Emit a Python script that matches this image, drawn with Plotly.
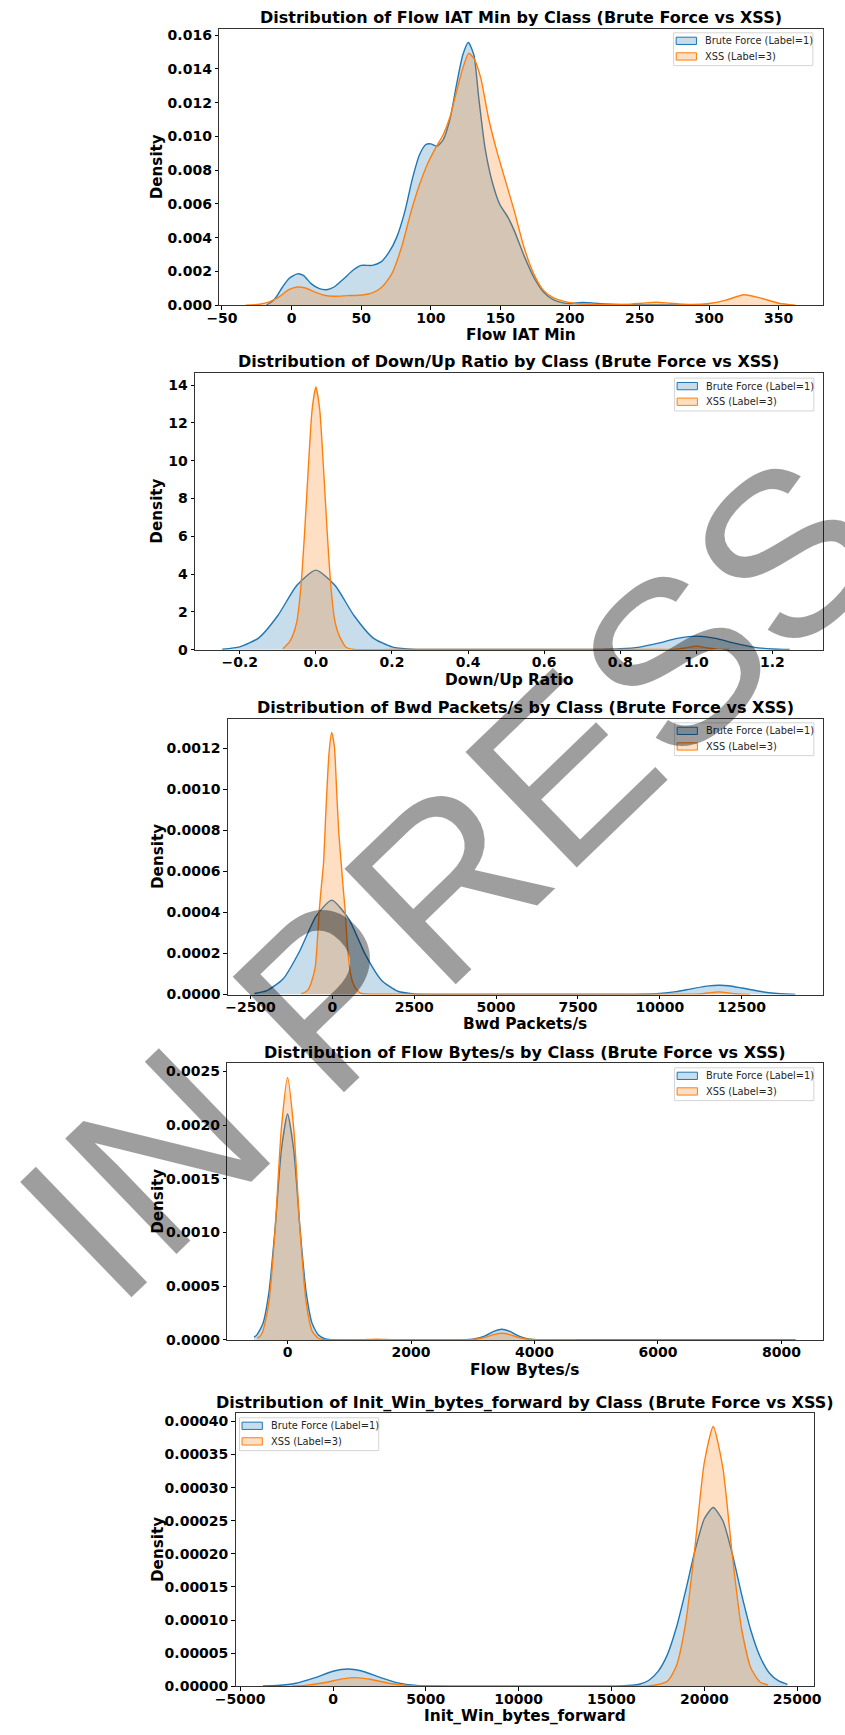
import plotly.graph_objects as go

W, H = 845, 1735

# ---------------- DATA ----------------
# Panel 1: Flow IAT Min
iat_bf_x = [-18, -14, -11, -6.5, -2, 4, 8.5, 14, 20, 25, 30.5, 37.5, 44.5, 50, 58, 64, 70, 75.5, 81.5, 87, 92, 96.5,
            100, 104.5, 109, 114, 118.5, 123, 127, 131, 134.5, 139, 144, 149.5, 155.5, 160, 167, 174, 181, 188, 195,
            200, 208.5, 215.5, 225, 236, 250, 270, 300]
iat_bf_y = [0.00002, 0.00022, 0.00049, 0.00108, 0.00157, 0.00186, 0.00177, 0.00128, 0.00098, 0.00092, 0.00108,
            0.00157, 0.0021, 0.00236, 0.00236, 0.00255, 0.00314, 0.00402, 0.00559, 0.00756, 0.00893, 0.00952,
            0.00956, 0.00942, 0.00981, 0.01109, 0.01305, 0.01482, 0.01556, 0.01482, 0.01227, 0.00932, 0.00736,
            0.00599, 0.0052, 0.00442, 0.00294, 0.00167, 0.00079, 0.00033, 0.00014, 0.0001, 0.00016, 0.00014,
            0.00008, 0.00004, 0.00002, 0.00001, 0.0]
iat_xss_x = [-33, -23, -16, -9, -2, 4, 10, 16.5, 23.5, 30.5, 40, 51, 58, 65, 72, 79, 86, 92, 97.5, 103.5, 109, 114,
             118.5, 123, 127.2, 131, 136, 141.5, 147.5, 153, 160, 167, 174, 181, 188, 195, 204, 213, 225, 240, 252,
             262, 272, 285, 300, 312, 325, 338, 350, 362]
iat_xss_y = [0.0, 0.00006, 0.0002, 0.00049, 0.00092, 0.00108, 0.00102, 0.00079, 0.00059, 0.00053, 0.00057, 0.00061,
             0.00073, 0.00108, 0.00186, 0.00343, 0.00559, 0.00716, 0.00834, 0.00932, 0.01011, 0.01119, 0.01266,
             0.01403, 0.01492, 0.01462, 0.01344, 0.01109, 0.00913, 0.00756, 0.00559, 0.00343, 0.00186, 0.00088,
             0.00045, 0.00024, 0.0001, 0.00006, 0.00004, 0.00005, 0.00012, 0.00018, 0.00012, 0.00005, 0.0001,
             0.0003, 0.00062, 0.0004, 0.00012, 0.0]

# Panel 2: Down/Up Ratio
ratio_bf_x = [-0.246, -0.2, -0.15, -0.1, -0.05, 0.0, 0.05, 0.1, 0.15, 0.2, 0.25, 0.3, 0.4, 0.5, 0.6, 0.7, 0.75,
              0.8, 0.85, 0.9, 0.95, 1.0, 1.05, 1.1, 1.15, 1.2, 1.245]
ratio_bf_y = [0.026, 0.15, 0.63, 1.81, 3.41, 4.21, 3.41, 1.81, 0.63, 0.15, 0.03, 0.015, 0.01, 0.01, 0.01, 0.015,
              0.02, 0.05, 0.14, 0.35, 0.6, 0.72, 0.6, 0.35, 0.14, 0.04, 0.01]
ratio_xss_x = [-0.087, -0.07, -0.06, -0.05, -0.04, -0.03, -0.02, -0.01, 0.0, 0.01, 0.02, 0.03, 0.04, 0.05, 0.06,
               0.07, 0.08, 0.1, 0.2, 0.4, 0.6, 0.8, 0.9, 0.94, 0.97, 1.0, 1.03, 1.06, 1.087]
ratio_xss_y = [0.05, 0.4, 0.8, 1.5, 3.2, 6.1, 9.6, 12.7, 13.9, 12.7, 9.6, 6.1, 3.2, 1.5, 0.8, 0.4, 0.12, 0.02,
               0.01, 0.01, 0.01, 0.01, 0.01, 0.02, 0.09, 0.19, 0.09, 0.02, 0.01]

# Panel 3: Bwd Packets/s
bwd_bf_x = [-2380, -2000, -1500, -1000, -500, -20, 500, 1000, 1500, 2000, 2500, 3000, 5000, 7000, 9000, 9500,
            10000, 10500, 11000, 11500, 11800, 12100, 12500, 13000, 13500, 14000, 14140]
bwd_bf_y = [5e-6, 1.9e-5, 7.7e-5, 0.000211, 0.000381, 0.00046, 0.000369, 0.000197, 7e-5, 1.6e-5, 3e-6, 1e-6,
            1e-6, 1e-6, 1e-6, 1.2e-6, 4.8e-6, 1.4e-5, 2.9e-5, 4.2e-5, 4.5e-5, 4.3e-5, 3.2e-5, 1.7e-5, 6e-6,
            1.6e-6, 1e-6]
bwd_xss_x = [-947, -850, -740, -640, -520, -460, -400, -340, -270, -190, -100, -20, 60, 140, 200, 270, 330, 390,
             450, 520, 620, 740, 893, 2000, 6000, 10000, 11000, 11300, 11550, 11800, 12050, 12300, 12600, 12750]
bwd_xss_y = [5e-6, 1e-5, 2.4e-5, 6e-5, 0.000137, 0.00026, 0.00041, 0.00052, 0.00064, 0.00092, 0.00118, 0.001277,
             0.00121, 0.00096, 0.00078, 0.00064, 0.00052, 0.00041, 0.00026, 0.000137, 6e-5, 2.4e-5, 5e-6, 2e-6,
             2e-6, 2e-6, 2e-6, 4e-6, 9.6e-6, 1.3e-5, 9.6e-6, 4e-6, 1e-6, 0.0]

# Panel 4: Flow Bytes/s
fbs_bf_x = [-543, -500, -400, -300, -200, -100, 0, 100, 200, 300, 400, 500, 600, 700, 1500, 2500, 3000, 3200,
            3350, 3470, 3600, 3750, 3900, 4100, 5000, 6000, 7000, 8230]
fbs_bf_y = [2.5e-5, 4.5e-5, 0.00015, 0.00045, 0.00105, 0.00177, 0.002106, 0.00177, 0.00105, 0.00045, 0.00015,
            4.5e-5, 1.2e-5, 3e-6, 1e-6, 1e-6, 6e-6, 3.8e-5, 8.2e-5, 9.9e-5, 7.9e-5, 3.5e-5, 9e-6, 1e-6, 1e-6,
            1e-6, 1e-6, 1e-6]
fbs_xss_x = [-492, -450, -400, -300, -200, -100, 0, 100, 200, 300, 400, 500, 600, 800, 1200, 1450, 1700, 2200,
             3000, 3200, 3350, 3470, 3600, 3750, 3950, 4300, 4675]
fbs_xss_y = [2e-5, 3.2e-5, 8e-5, 0.000357, 0.00104, 0.00197, 0.002444, 0.00197, 0.00104, 0.000357, 8e-5, 1.5e-5,
             3e-6, 1e-6, 2e-6, 8e-6, 2e-6, 1e-6, 4e-6, 2.4e-5, 5.2e-5, 6.2e-5, 5e-5, 2.2e-5, 4e-6, 1e-6, 0.0]

# Panel 5: Init_Win_bytes_forward
win_bf_x = [-3780, -3000, -2000, -1000, 0, 800, 1500, 2500, 3500, 4500, 5500, 7000, 10000, 13000, 15500, 16500,
            17000, 17500, 18000, 18500, 19000, 19500, 20000, 20480, 21000, 21500, 22000, 22500, 23000, 23500,
            24000, 24480]
win_bf_y = [5e-7, 1.1e-6, 4.5e-6, 1.27e-5, 2.26e-5, 2.6e-5, 2.34e-5, 1.37e-5, 5.1e-6, 1.2e-6, 3e-7, 2e-7, 2e-7,
            2e-7, 5e-7, 3e-6, 8.7e-6, 2.2e-5, 4.7e-5, 8.9e-5, 0.000145, 0.000205, 0.000253, 0.00027, 0.00025,
            0.000201, 0.00014, 8.5e-5, 4.5e-5, 2e-5, 8e-6, 2.9e-6]
win_xss_x = [-2200, -1500, -500, 500, 1200, 2000, 3000, 4000, 5000, 8000, 12000, 16000, 17000, 18000, 18500,
             19000, 19500, 20000, 20480, 21000, 21500, 22000, 22500, 23000, 23440]
win_xss_y = [2e-7, 1.3e-6, 5.2e-6, 1.11e-5, 1.3e-5, 1.06e-5, 4.6e-6, 1.1e-6, 1e-7, 1e-7, 1e-7, 1e-7, 5e-7, 7.4e-6,
             3.1e-5, 9.6e-5, 0.000211, 0.000338, 0.0003925, 0.00033, 0.0002, 8.8e-5, 2.8e-5, 6.5e-6, 2e-6]

features = ["Flow IAT Min", "Down/Up Ratio", "Bwd Packets/s", "Flow Bytes/s", "Init_Win_bytes_forward"]
series_names = ["Brute Force (Label=1)", "XSS (Label=3)"]

# tick values per panel
x_ticks = [
    [-50, 0, 50, 100, 150, 200, 250, 300, 350],
    [-0.2, 0.0, 0.2, 0.4, 0.6, 0.8, 1.0, 1.2],
    [-2500, 0, 2500, 5000, 7500, 10000, 12500],
    [0, 2000, 4000, 6000, 8000],
    [-5000, 0, 5000, 10000, 15000, 20000, 25000],
]
y_ticks = [
    [0.000, 0.002, 0.004, 0.006, 0.008, 0.010, 0.012, 0.014, 0.016],
    [0, 2, 4, 6, 8, 10, 12, 14],
    [0.0000, 0.0002, 0.0004, 0.0006, 0.0008, 0.0010, 0.0012],
    [0.0000, 0.0005, 0.0010, 0.0015, 0.0020, 0.0025],
    [0.0, 0.00005, 0.0001, 0.00015, 0.0002, 0.00025, 0.0003, 0.00035, 0.0004],
]
x_fmt = ["{:.0f}", "{:.1f}", "{:.0f}", "{:.0f}", "{:.0f}"]
y_fmt = ["{:.3f}", "{:.0f}", "{:.4f}", "{:.4f}", "{:.5f}"]

curves = [
    (iat_bf_x, iat_bf_y, iat_xss_x, iat_xss_y),
    (ratio_bf_x, ratio_bf_y, ratio_xss_x, ratio_xss_y),
    (bwd_bf_x, bwd_bf_y, bwd_xss_x, bwd_xss_y),
    (fbs_bf_x, fbs_bf_y, fbs_xss_x, fbs_xss_y),
    (win_bf_x, win_bf_y, win_xss_x, win_xss_y),
]

# ---------------- LAYOUT (pixel geometry) ----------------
boxes = [  # left, right, top, bottom (px)
    (205, 829, 27, 305),
    (180, 829, 373, 651.5),
    (214, 829, 721, 998.3),
    (213.3, 829, 1067.3, 1345.7),
    (222, 820, 1419.3, 1694),
]
x_ranges = [[-52, 381.5], [-0.3177, 1.3316], [-3190, 14970], [-977, 8666], [-5245, 25900]]
y_ranges = [[0, 0.01637], [0, 14.65], [0, 0.001343], [0, 0.002578], [0, 0.0004126]]
legend_boxes = [(675, 31), (676, 378.3), (676, 725), (676, 1072), (226, 1424)]  # left, top (px)

BLUE = "#1f77b4"
ORANGE = "#ff7f0e"
BLUE_FILL = "rgba(31,119,180,0.25)"
ORANGE_FILL = "rgba(255,127,14,0.25)"
FONT = "DejaVu Sans"


def px(x):
    return x / W


def py(y):
    return 1 - y / H


fig = go.Figure()
annotations = []
shapes = []
layout = dict(
    width=W, height=H, margin=dict(l=0, r=0, t=0, b=0),
    paper_bgcolor="white", plot_bgcolor="white", showlegend=False,
    font=dict(family=FONT, color="black"),
)

for i in range(5):
    n = "" if i == 0 else str(i + 1)
    xa, ya = "x" + n, "y" + n
    bx0, bx1, by0, by1 = boxes[i]
    bfx, bfy, xsx, xsy = curves[i]
    fig.add_trace(go.Scatter(
        x=bfx, y=bfy, mode="lines", fill="tozeroy", fillcolor=BLUE_FILL,
        line=dict(color=BLUE, width=1.4, shape="spline", smoothing=0.6),
        name=series_names[0], xaxis=xa, yaxis=ya, hoverinfo="skip"))
    fig.add_trace(go.Scatter(
        x=xsx, y=xsy, mode="lines", fill="tozeroy", fillcolor=ORANGE_FILL,
        line=dict(color=ORANGE, width=1.4, shape="spline", smoothing=0.6),
        name=series_names[1], xaxis=xa, yaxis=ya, hoverinfo="skip"))

    axis_common = dict(
        showgrid=False, zeroline=False, showline=True, linecolor="#333333", linewidth=1, mirror=True,
        ticks="outside", ticklen=3.5, tickwidth=1, tickcolor="black",
        tickfont=dict(family=FONT, size=14, color="black", weight="bold"),
    )
    layout["xaxis" + n] = dict(
        axis_common, domain=[px(bx0), px(bx1)], range=x_ranges[i], anchor=ya, ticklabelstandoff=-4,
        tickmode="array", tickvals=x_ticks[i],
        ticktext=[x_fmt[i].format(v).replace("-", "\u2212") for v in x_ticks[i]])
    layout["yaxis" + n] = dict(
        axis_common, domain=[py(by1), py(by0)], range=y_ranges[i], anchor=xa,
        tickmode="array", tickvals=y_ticks[i], ticktext=[y_fmt[i].format(v) for v in y_ticks[i]])

    cx = (bx0 + bx1) / 2
    annotations.append(dict(
        text="Distribution of %s by Class (Brute Force vs XSS)" % features[i],
        x=px(cx), y=py(by0 - 11), xref="paper", yref="paper", xanchor="center", yanchor="middle",
        showarrow=False, font=dict(family=FONT, size=16, color="black", weight="bold")))
    annotations.append(dict(
        text=features[i], x=px(cx), y=py(by1 + 30), xref="paper", yref="paper",
        xanchor="center", yanchor="middle", showarrow=False,
        font=dict(family=FONT, size=15.4, color="black", weight="bold")))
    annotations.append(dict(
        text="Density", x=px(141), y=py((by0 + by1) / 2), xref="paper", yref="paper",
        xanchor="center", yanchor="middle", textangle=-90, showarrow=False,
        font=dict(family=FONT, size=15.2, color="black", weight="bold")))

    # legend (box, colour patches, labels)
    L, T = legend_boxes[i]
    shapes.append(dict(type="rect", xref="paper", yref="paper", x0=px(L), x1=px(L + 144), y0=py(T), y1=py(T + 33),
                       fillcolor="rgba(255,255,255,0.8)", line=dict(color="#d4d4d4", width=1), layer="above"))
    for k, (lc, fc) in enumerate([(BLUE, BLUE_FILL), (ORANGE, ORANGE_FILL)]):
        shapes.append(dict(type="rect", xref="paper", yref="paper",
                           x0=px(L + 2.6), x1=px(L + 23.6), y0=py(T + 4.4 + 15.7 * k), y1=py(T + 11.7 + 15.7 * k),
                           fillcolor=fc, line=dict(color=lc, width=1), layer="above"))
        annotations.append(dict(
            text=series_names[k], x=px(L + 30.5), y=py(T + 8.2 + 15.7 * k), xref="paper", yref="paper",
            xanchor="left", yanchor="middle", showarrow=False,
            font=dict(family=FONT, size=9.8, color="#262626")))

# watermark
annotations.append(dict(
    text="IN PRESS", x=px(445), y=py(879), xref="paper", yref="paper", xanchor="center", yanchor="middle",
    textangle=-44, showarrow=False,
    font=dict(family="Liberation Sans", size=233, color="rgba(0,0,0,0.38)")))

layout["annotations"] = annotations
layout["shapes"] = shapes
fig.update_layout(**layout)
fig.write_html("out.html", post_script="document.body.style.margin='0px';")
